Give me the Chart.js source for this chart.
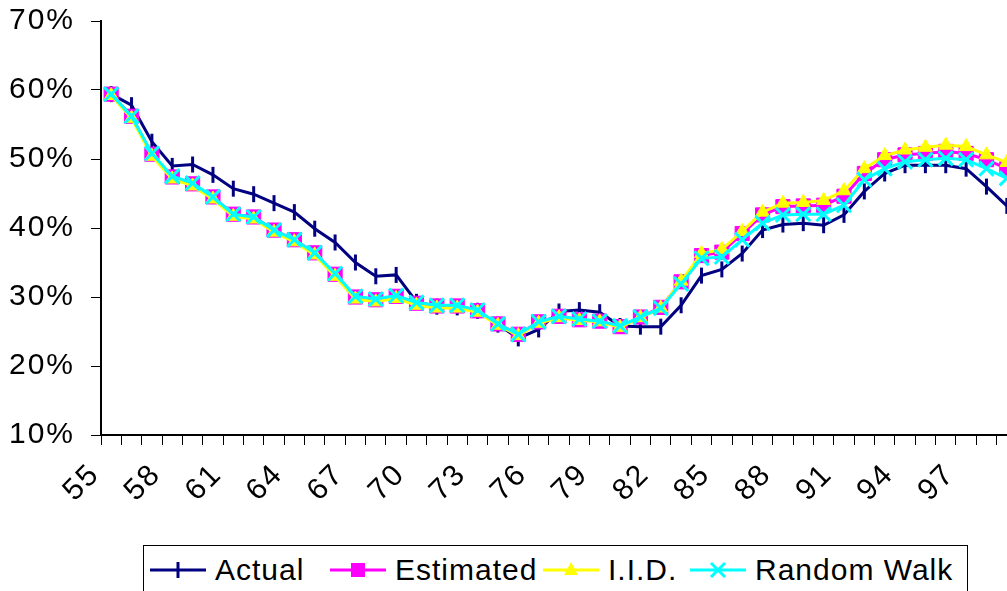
<!DOCTYPE html>
<html>
<head>
<meta charset="utf-8">
<script src="https://cdn.jsdelivr.net/npm/chart.js@4.4.1/dist/chart.umd.min.js"></script>
<style>
  html, body { margin: 0; padding: 0; background: #fff; }
  #wrap { position: relative; width: 1007px; height: 591px; overflow: hidden; }
  #chart { position: absolute; left: 0; top: 0; }
  #legend {
    position: absolute; left: 143px; top: 545px; width: 825px; height: 60px;
    box-sizing: border-box; border: 1px solid #000; background: #fff;
    font: 30px "Liberation Sans", Arial, sans-serif; letter-spacing: 1px; color: #000;
    white-space: nowrap;
  }
  .item { position: absolute; top: 9px; display: flex; align-items: center; line-height: 30px; }
  .item svg { margin-right: 9px; }
</style>
</head>
<body>
<div id="wrap">
  <canvas id="chart" width="1030" height="591"></canvas>
  <div id="legend"></div>
</div>
<script>
// years 1955..1999, shown as two digits
const categories = ['55', '56', '57', '58', '59', '60', '61', '62', '63', '64',
  '65', '66', '67', '68', '69', '70', '71', '72', '73', '74',
  '75', '76', '77', '78', '79', '80', '81', '82', '83', '84',
  '85', '86', '87', '88', '89', '90', '91', '92', '93', '94',
  '95', '96', '97', '98', '99'];

const actual = [59.4, 57.8, 52.5, 49.0, 49.2, 47.7, 45.7, 44.9, 43.6, 42.3,
  39.9, 37.9, 35.0, 33.0, 33.2, 29.3, 28.6, 28.5, 28.0, 26.0,
  24.0, 25.3, 27.9, 28.1, 27.8, 25.8, 25.7, 25.7, 28.8, 33.1,
  34.0, 36.3, 39.7, 40.5, 40.7, 40.4, 41.9, 45.3, 47.9, 49.1,
  49.1, 49.1, 48.6, 46.0, 43.2];

const estimated = [59.4, 56.2, 50.7, 47.4, 46.4, 44.5, 42.0, 41.6, 39.7, 38.3,
  36.4, 33.3, 30.0, 29.6, 30.1, 29.1, 28.7, 28.7, 28.0, 26.1,
  24.6, 26.4, 27.2, 26.7, 26.5, 25.7, 27.1, 28.5, 32.2, 36.0,
  36.5, 39.2, 41.9, 43.1, 43.2, 43.3, 44.6, 47.9, 49.9, 50.6,
  50.8, 51.1, 50.8, 49.9, 48.6];

const iid = [59.2, 55.9, 50.4, 47.1, 46.1, 44.2, 41.7, 41.3, 39.4, 38.0,
  36.1, 33.0, 29.7, 29.3, 29.8, 28.8, 28.4, 28.4, 27.8, 25.9,
  24.4, 26.2, 27.0, 26.6, 26.4, 25.6, 27.0, 28.4, 32.3, 36.3,
  36.9, 39.5, 42.3, 43.6, 43.7, 44.0, 45.4, 48.6, 50.5, 51.3,
  51.7, 52.0, 51.8, 50.6, 49.5];

const randomWalk = [59.4, 56.2, 50.8, 47.5, 46.5, 44.5, 42.0, 41.6, 39.7, 38.3,
  36.4, 33.4, 30.1, 29.7, 30.2, 29.2, 28.8, 28.8, 28.1, 26.1,
  24.6, 26.4, 27.2, 26.8, 26.5, 25.8, 27.1, 28.4, 31.9, 35.6,
  35.8, 38.3, 40.7, 41.9, 42.0, 42.0, 43.3, 47.0, 48.6, 49.6,
  49.9, 50.1, 49.9, 48.6, 47.2];

const seriesNames = ['Actual', 'Estimated', 'I.I.D.', 'Random Walk'];

const NAVY = '#000080';
const MAGENTA = '#ff00ff';
const YELLOW = '#ffff00';
const CYAN = '#00ffff';

Chart.defaults.font.family = '"Liberation Sans", Arial, sans-serif';
Chart.defaults.color = '#000';

const tickFont = { size: 30 };

// the original's labels run a little wide, so space the letters out
const spacing = {
  id: 'spacing',
  beforeUpdate(chart) { chart.ctx.letterSpacing = '2px'; },
  beforeDraw(chart) { chart.ctx.letterSpacing = '2px'; }
};

new Chart(document.getElementById('chart'), {
  type: 'line',
  data: {
    labels: categories,
    datasets: [
      {
        label: seriesNames[0],
        data: actual,
        borderColor: NAVY,
        borderWidth: 3,
        pointStyle: 'line',
        rotation: 90,
        pointRadius: 8,
        pointBorderWidth: 3,
        pointBorderColor: NAVY,
        order: 4
      },
      {
        label: seriesNames[1],
        data: estimated,
        borderColor: MAGENTA,
        borderWidth: 3,
        pointStyle: 'rect',
        pointRadius: 10,
        pointBackgroundColor: MAGENTA,
        pointBorderColor: MAGENTA,
        pointBorderWidth: 1,
        order: 3
      },
      {
        label: seriesNames[2],
        data: iid,
        borderColor: YELLOW,
        borderWidth: 3,
        pointStyle: 'triangle',
        pointRadius: 8,
        pointBackgroundColor: YELLOW,
        pointBorderColor: YELLOW,
        pointBorderWidth: 1,
        order: 2
      },
      {
        label: seriesNames[3],
        data: randomWalk,
        borderColor: CYAN,
        borderWidth: 3,
        pointStyle: 'crossRot',
        pointRadius: 10,
        pointBorderColor: CYAN,
        pointBorderWidth: 3,
        order: 1
      }
    ]
  },
  options: {
    responsive: false,
    animation: false,
    layout: { padding: { left: 0, right: 11, top: 21, bottom: 0 } },
    plugins: {
      legend: { display: false },
      tooltip: { enabled: false }
    },
    scales: {
      x: {
        offset: true,
        grid: { offset: true, drawOnChartArea: false, tickLength: 10, color: '#000', lineWidth: 1 },
        border: { color: '#000', width: 2 },
        ticks: {
          autoSkip: false,
          maxRotation: 45,
          minRotation: 45,
          font: tickFont,
          padding: 12,
          labelOffset: -16,
          callback(value, index) {
            return index % 3 === 0 ? this.getLabelForValue(value) : '';
          }
        },
        afterFit(scale) {
          scale.height = 156;
          scale.paddingLeft = 0;
          scale.paddingRight = 0;
        }
      },
      y: {
        min: 10,
        max: 70,
        grid: { drawOnChartArea: false, tickLength: 10, color: '#000', lineWidth: 1 },
        border: { color: '#000', width: 2 },
        ticks: {
          stepSize: 10,
          font: tickFont,
          padding: 16,
          callback: (v) => v + '%'
        },
        afterFit(scale) {
          scale.width = 101;
          scale.paddingTop = 0;
          scale.paddingBottom = 0;
        }
      }
    }
  },
  plugins: [spacing]
});

// legend: line sample with marker, then the name
const icons = [
  `<line x1="0" y1="15" x2="56" y2="15" stroke="${NAVY}" stroke-width="3"/>
   <line x1="28" y1="7" x2="28" y2="23" stroke="${NAVY}" stroke-width="3"/>`,
  `<line x1="0" y1="15" x2="56" y2="15" stroke="${MAGENTA}" stroke-width="3"/>
   <rect x="21" y="8" width="14" height="14" fill="${MAGENTA}"/>`,
  `<line x1="0" y1="15" x2="56" y2="15" stroke="${YELLOW}" stroke-width="3"/>
   <polygon points="28,7 35,20 21,20" fill="${YELLOW}"/>`,
  `<line x1="0" y1="15" x2="56" y2="15" stroke="${CYAN}" stroke-width="3"/>
   <line x1="21" y1="8" x2="35" y2="22" stroke="${CYAN}" stroke-width="3"/>
   <line x1="35" y1="8" x2="21" y2="22" stroke="${CYAN}" stroke-width="3"/>`
];
const itemLeft = [6, 186, 399, 546];
document.getElementById('legend').innerHTML = seriesNames.map((name, i) =>
  `<span class="item" style="left:${itemLeft[i]}px"><svg width="56" height="30">${icons[i]}</svg><span>${name}</span></span>`
).join('');
</script>
</body>
</html>
